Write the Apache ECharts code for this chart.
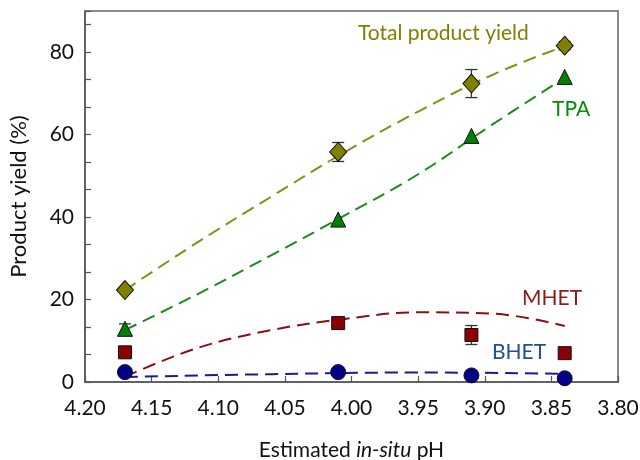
<!DOCTYPE html>
<html>
<head>
<meta charset="utf-8">
<script src="https://cdn.jsdelivr.net/npm/echarts@6/dist/echarts.min.js"></script>
<style>
  html, body { margin: 0; padding: 0; background: #fff; }
  #chart { width: 640px; height: 460px; }
</style>
</head>
<body>
<div id="chart"></div>
<script>
// measured points (pH, yield %)
var phPoints = [4.17, 4.01, 3.91, 3.84];
var totalYield = [22.3, 55.8, 72.4, 81.6];
var totalErr = [0, 2.3, 3.4, 1.0];
var tpaYield = [12.9, 39.4, 59.7, 74.0];
var tpaErr = [1.2, 0, 0, 0];
var mhetYield = [7.2, 14.3, 11.4, 7.0];
var mhetErr = [0, 0, 2.3, 0];
var bhetYield = [2.4, 2.4, 1.6, 0.9];
var bhetErr = [1.0, 0, 0, 0];

// dashed fit curves
var totalFitX = [4.17, 4.115, 4.06, 4.005, 3.95, 3.895, 3.84];
var totalFitY = [22.3, 34.0, 45.0, 55.8, 65.6, 74.4, 81.5];
var tpaFitX = [4.17, 4.115, 4.06, 4.005, 3.95, 3.895, 3.84];
var tpaFitY = [12.6, 21.4, 30.8, 40.4, 50.4, 62.3, 73.8];
var mhetFitX = [4.17, 4.115, 4.06, 4.005, 3.95, 3.895, 3.84];
var mhetFitY = [1.3, 8.3, 12.6, 15.3, 16.9, 16.6, 13.6];
var bhetFitX = [4.17, 4.06, 3.95, 3.84];
var bhetFitY = [1.2, 1.9, 2.3, 2.0];

var xTicks = { min: 3.80, max: 4.20, step: 0.05 };
var yTicks = { min: 0, max: 90, major: 20, minor: 20 / 3 };

var myChart = echarts.init(document.getElementById('chart'));
var fontName = 'Lato';

function pairs(xs, ys) {
    return xs.map(function (x, i) { return [x, ys[i]]; });
}

function errData(ys, es) {
    var out = [];
    phPoints.forEach(function (x, i) {
        if (es[i] > 0) out.push([x, ys[i] - es[i], ys[i] + es[i]]);
    });
    return out;
}

function errSeries(ys, es) {
    return {
        type: 'custom',
        z: 3,
        silent: true,
        data: errData(ys, es),
        renderItem: function (params, api) {
            var lo = api.coord([api.value(0), api.value(1)]);
            var hi = api.coord([api.value(0), api.value(2)]);
            var w = 6;
            var st = { stroke: '#333', lineWidth: 1.3 };
            return {
                type: 'group',
                children: [
                    { type: 'line', shape: { x1: lo[0], y1: lo[1], x2: hi[0], y2: hi[1] }, style: st },
                    { type: 'line', shape: { x1: lo[0] - w, y1: lo[1], x2: lo[0] + w, y2: lo[1] }, style: st },
                    { type: 'line', shape: { x1: hi[0] - w, y1: hi[1], x2: hi[0] + w, y2: hi[1] }, style: st }
                ]
            };
        }
    };
}

function fitSeries(xs, ys, color) {
    return {
        type: 'line',
        data: pairs(xs, ys),
        smooth: 0.4,
        showSymbol: false,
        silent: true,
        z: 2,
        lineStyle: { color: color, width: 2, type: [13, 7] }
    };
}

function pointSeries(ys, symbol, size, color) {
    return {
        type: 'scatter',
        data: pairs(phPoints, ys),
        symbol: symbol,
        symbolSize: size,
        z: 4,
        itemStyle: { color: color, opacity: 1, borderColor: '#111', borderWidth: 1 }
    };
}

function isMajor(v) {
    var k = v / yTicks.major;
    return Math.abs(k - Math.round(k)) < 1e-4;
}

var option = {
    animation: false,
    textStyle: { fontFamily: fontName },
    grid: {
        left: 85, right: 22, top: 11, bottom: 78,
        containLabel: false,
        outerBoundsMode: 'none',
        show: true, borderColor: '#666', borderWidth: 1.5
    },
    xAxis: {
        type: 'value',
        inverse: true,
        min: xTicks.min,
        max: xTicks.max,
        interval: xTicks.step,
        name: '{a|Estimated }{b|in-situ}{a| pH}',
        nameLocation: 'middle',
        nameGap: 58,
        nameTextStyle: {
            fontSize: 21, color: '#111', fontFamily: fontName,
            rich: {
                a: { fontFamily: fontName, fontSize: 21, color: '#111' },
                b: { fontFamily: fontName, fontSize: 21, color: '#111', fontStyle: 'italic' }
            }
        },
        axisLine: { lineStyle: { color: '#555', width: 1.5 } },
        axisTick: { inside: true, length: 6, lineStyle: { color: '#555', width: 1.2 } },
        axisLabel: {
            margin: 16, fontSize: 21, color: '#111', fontFamily: fontName,
            formatter: function (v) { return v.toFixed(2); }
        },
        splitLine: { show: false }
    },
    yAxis: {
        type: 'value',
        min: yTicks.min,
        max: yTicks.max,
        interval: yTicks.minor,
        name: 'Product yield (%)',
        nameLocation: 'middle',
        nameGap: 55,
        nameTextStyle: { fontSize: 22, color: '#111', fontFamily: fontName },
        axisLine: { lineStyle: { color: '#555', width: 1.5 } },
        axisTick: { inside: true, length: 6, lineStyle: { color: '#555', width: 1.2 } },
        axisLabel: {
            margin: 11, fontSize: 21, color: '#111', fontFamily: fontName,
            formatter: function (v) { return (isMajor(v) && v < yTicks.max - 1) ? String(Math.round(v)) : ''; }
        },
        splitLine: { show: false }
    },
    series: [
        fitSeries(totalFitX, totalFitY, '#8c8c14'),
        fitSeries(tpaFitX, tpaFitY, '#1a8c1a'),
        fitSeries(mhetFitX, mhetFitY, '#8b1010'),
        fitSeries(bhetFitX, bhetFitY, '#1a1a99'),
        errSeries(totalYield, totalErr),
        errSeries(tpaYield, tpaErr),
        errSeries(mhetYield, mhetErr),
        errSeries(bhetYield, bhetErr),
        pointSeries(totalYield, 'diamond', [17, 19], '#808000'),
        pointSeries(tpaYield, 'triangle', 15, '#008000'),
        pointSeries(mhetYield, 'rect', 13, '#8b0000'),
        pointSeries(bhetYield, 'circle', 15, '#00008b')
    ],
    graphic: [
        { type: 'text', left: 358, top: 23, style: { text: 'Total product yield', fill: '#7f7f00', font: '21px Lato' } },
        { type: 'text', left: 552, top: 99, style: { text: 'TPA', fill: '#0a8a0a', font: '21px Lato' } },
        { type: 'text', left: 522, top: 288, style: { text: 'MHET', fill: '#8b1a1a', font: '21px Lato' } },
        { type: 'text', left: 492, top: 342, style: { text: 'BHET', fill: '#1f4e9a', font: '21px Lato' } }
    ]
};

myChart.setOption(option);

window.addEventListener('resize', function () {
    myChart.resize();
});
</script>
</body>
</html>
